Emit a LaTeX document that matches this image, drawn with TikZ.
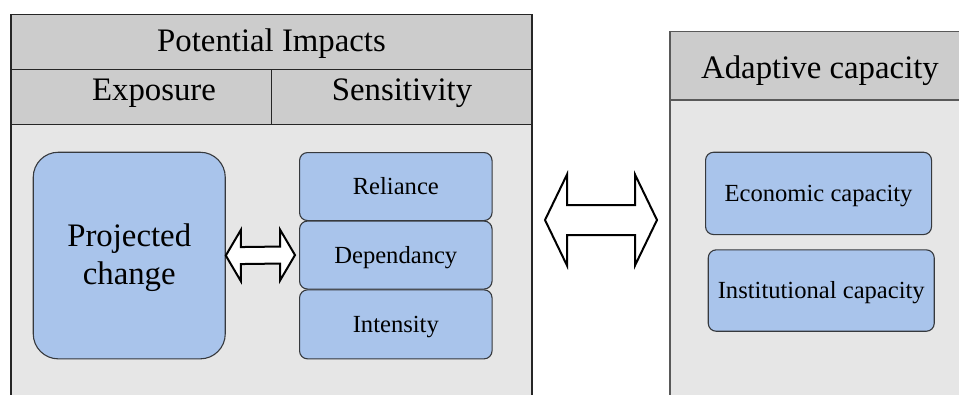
\documentclass[tikz,border=0pt]{standalone}
\usepackage{fontspec}
\setmainfont{Liberation Serif}
\usetikzlibrary{calc}
\definecolor{hdrgray}{HTML}{CCCCCC}
\definecolor{bodygray}{HTML}{E6E6E6}
\definecolor{boxblue}{HTML}{A9C4EB}
\definecolor{boxline}{HTML}{36393D}

\begin{document}
\begin{tikzpicture}[x=1pt,y=-1pt,
  panel/.style={draw=black!85,line width=1.4pt},
  bigtxt/.style={font=\fontsize{32.8}{38}\selectfont,anchor=base,inner sep=0pt},
  capbox/.style={draw=boxline,fill=boxblue,line width=1.1pt,rounded corners=8pt,anchor=north west,inner sep=0pt,
    font=\fontsize{24.6}{29}\selectfont,text height=16.2pt,text depth=0pt},
  dblarrow/.style={draw=black,fill=white,line width=2pt,line join=miter}]
\clip (0,0) rectangle (959,394);
\fill[white] (0,0) rectangle (959,394);
% potential impacts
\draw[panel,fill=bodygray] (11,124.7) rectangle (532,410);
\draw[panel,fill=hdrgray] (11,14.7) rectangle (532,69.7);
\draw[panel,fill=hdrgray] (11,69.7) rectangle (271.7,124.7);
\draw[panel,fill=hdrgray] (271.7,69.7) rectangle (532,124.7);
\node[bigtxt] (pot) at (271.5,51.7) {Potential Impacts};
\node[bigtxt] (expo) at (154,100) {Exposure};
\node[bigtxt] (sens) at (402,100) {Sensitivity};
\node[capbox,minimum width=192,minimum height=206.6,rounded corners=25pt,align=center,
  font=\fontsize{32.8}{38}\selectfont,text height=60pt,text depth=2pt] (proj) at (32.7,151.7) {Projected\\change};
\node[capbox,minimum width=192.5,minimum height=68] (rel) at (299,152) {Reliance};
\node[capbox,minimum width=192.5,minimum height=68] (dep) at (299,220.5) {Dependancy};
\node[capbox,minimum width=192.5,minimum height=69] (inten) at (299,289.3) {Intensity};
% adaptive capacity
\draw[panel,draw=black!65,fill=bodygray] (670,100) rectangle (975,410);
\draw[panel,draw=black!65,fill=hdrgray] (670,31.7) rectangle (975,100);
\node[bigtxt] (adapt) at (820,78.3) {Adaptive capacity};
\node[capbox,minimum width=226,minimum height=82.3] (econ) at (705,151.7) {Economic capacity};
\node[capbox,minimum width=226,minimum height=81.4] (inst) at (707.7,249.3) {Institutional capacity};
% double arrows
\coordinate (impR) at (532,220);
\coordinate (adaL) at (670,220);
\draw[dblarrow] (proj.east) -- ++(15,-25.5) -- ++(0,17) -- ($(dep.west)+(-19,-8.5)$) -- ++(0,-17)
  -- ($(dep.west)+(-4,0)$) -- ++(-15,25.5) -- ++(0,-17) -- ($(proj.east)+(15,8.5)$) -- ++(0,17) -- cycle;
\draw[dblarrow] ($(impR)+(13,0)$) -- ++(22,-45.5) -- ++(0,30.5) -- ($(adaL)+(-35,-15)$) -- ++(0,-30.5)
  -- ($(adaL)+(-13,0)$) -- ++(-22,45.5) -- ++(0,-30.5) -- ($(impR)+(35,15)$) -- ++(0,30.5) -- cycle;
\end{tikzpicture}
\end{document}
